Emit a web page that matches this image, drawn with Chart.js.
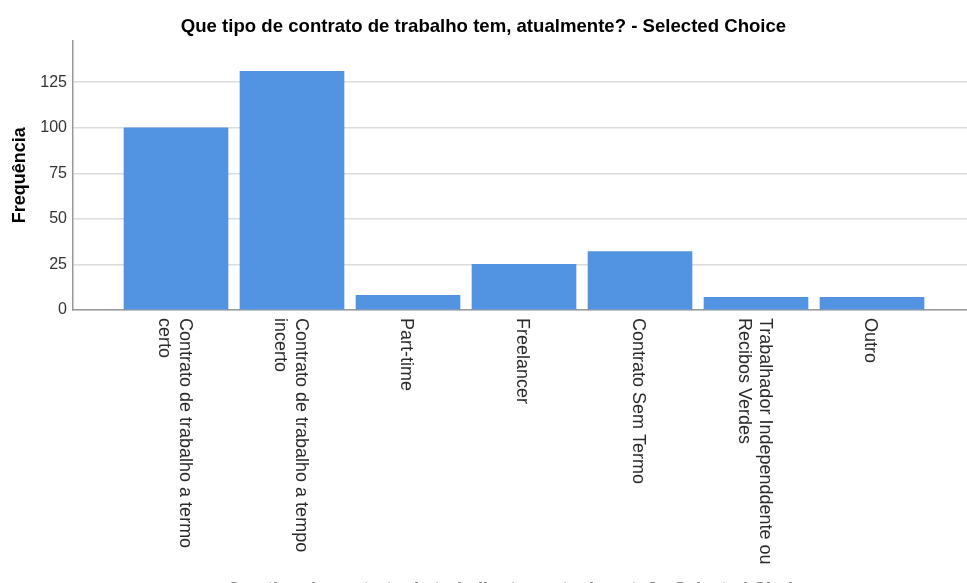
<!DOCTYPE html>
<html>
<head>
<meta charset="utf-8">
<script src="https://cdn.jsdelivr.net/npm/chart.js@4.4.1/dist/chart.umd.min.js"></script>
<style>
html,body{margin:0;padding:0;background:#fff;overflow:hidden;}
#wrap{width:967px;height:600px;}
</style>
</head>
<body>
<div id="wrap"><canvas id="c" width="967" height="600"></canvas></div>
<script>
const chartTitle = "Que tipo de contrato de trabalho tem, atualmente? - Selected Choice";
const xAxisTitle = "Que tipo de contrato de trabalho tem, atualmente? - Selected Choice";
const yAxisTitle = "Frequência";
const categories = [
  ["Contrato de trabalho a termo", "certo"],
  ["Contrato de trabalho a tempo", "incerto"],
  ["Part-time"],
  ["Freelancer"],
  ["Contrato Sem Termo"],
  ["Trabalhador Independdente ou", "Recibos Verdes"],
  ["Outro"]
];
const frequencies = [100, 131, 8, 25, 32, 7, 7];
const yTicks = [0, 25, 50, 75, 100, 125];

const FONT = "'Liberation Sans', Arial, sans-serif";

const labelPlugin = {
  id: 'rotLabels',
  afterDraw(chart) {
    const ctx = chart.ctx;
    const xs = chart.scales.x;
    const area = chart.chartArea;
    ctx.save();
    ctx.fillStyle = '#2a2a2a';
    ctx.font = '18px ' + FONT;
    ctx.textAlign = 'left';
    ctx.textBaseline = 'middle';
    const lh = 21;
    categories.forEach((lines, i) => {
      const px = xs.getPixelForValue(i);
      ctx.save();
      ctx.translate(px - 2, area.bottom + 8);
      ctx.rotate(Math.PI / 2);
      lines.forEach((ln, j) => {
        ctx.fillText(ln, 0, (j - (lines.length - 1) / 2) * lh);
      });
      ctx.restore();
    });
    ctx.font = 'bold 18px ' + FONT;
    ctx.fillStyle = '#777';
    ctx.textAlign = 'center';
    ctx.textBaseline = 'top';
    ctx.fillText(xAxisTitle, (area.left + area.right) / 2, 581.5);
    ctx.restore();
  }
};

new Chart(document.getElementById('c'), {
  type: 'bar',
  data: {
    datasets: [{
      data: frequencies.map((v, i) => ({ x: i, y: v })),
      backgroundColor: '#5294E2',
      borderWidth: 0,
      barThickness: 104
    }]
  },
  options: {
    responsive: false,
    animation: false,
    layout: { padding: 0 },
    plugins: {
      legend: { display: false },
      tooltip: { enabled: false },
      title: {
        display: true,
        text: chartTitle,
        color: '#000',
        font: { family: FONT, size: 18.6, weight: 'bold' },
        padding: { top: 16, bottom: 2 }
      }
    },
    scales: {
      x: {
        type: 'linear',
        offset: false,
        min: (73 - 176) / 116,
        max: (967 - 176) / 116,
        ticks: { display: false },
        grid: { display: false, offset: false },
        border: { display: true, color: '#999', width: 1.5 },
        afterFit(scale) { scale.height = 290; }
      },
      y: {
        min: 0,
        max: 148,
        afterBuildTicks(scale) { scale.ticks = yTicks.map(v => ({ value: v })); },
        afterFit(scale) { scale.width = 73; },
        ticks: {
          color: '#333',
          padding: 6,
          font: { family: FONT, size: 16 }
        },
        grid: { color: '#dcdcdc', lineWidth: 1.5, drawTicks: false },
        border: { display: true, color: '#999', width: 1.5 },
        title: {
          display: true,
          text: yAxisTitle,
          color: '#000',
          font: { family: FONT, size: 18, weight: 'bold' },
          padding: { top: 9, bottom: 0 }
        }
      }
    }
  },
  plugins: [labelPlugin]
});
</script>
</body>
</html>
